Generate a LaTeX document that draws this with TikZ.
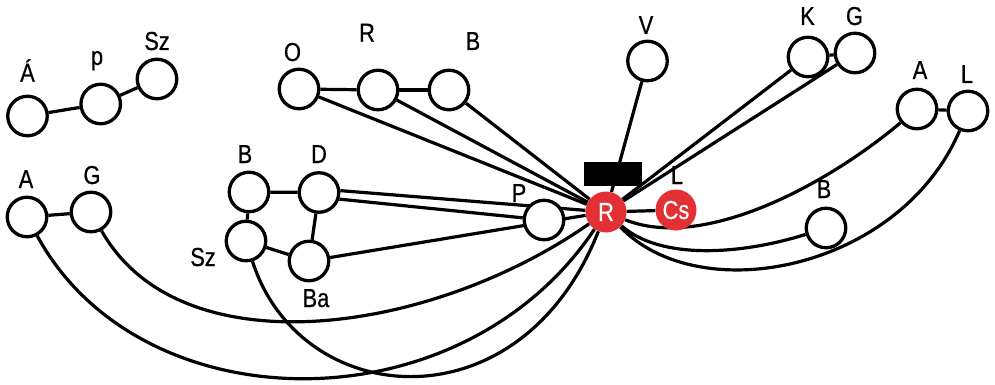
\documentclass[tikz,border=0pt]{standalone}
\usepackage{fontspec}
\setmainfont{Liberation Sans}[FakeStretch=0.84,FakeBold=0.6]
\usetikzlibrary{backgrounds}
\definecolor{hubred}{RGB}{226,48,52}
\begin{document}
\begin{tikzpicture}[x=1pt,y=-1pt,
  vert/.style={circle,draw,line width=3.3pt,fill=white,minimum size=39.5pt,inner sep=0pt},
  hub/.style={circle,fill=hubred,minimum size=41pt,inner sep=0pt,text=white,font=\fontsize{26}{26}\selectfont},
  lab/.style={anchor=base,inner sep=0pt,font=\fontsize{26}{26}\selectfont},
  link/.style={line width=3.2pt},
  barbox/.style={fill=black,minimum width=58pt,minimum height=24pt,inner sep=0pt}]
\useasboundingbox (0,0) rectangle (995,385);
% vertices
\node[vert] (a1) at (27.5,116) {};
\node[vert] (p1) at (100.7,104) {};
\node[vert] (sz1) at (157,79) {};
\node[vert] (o1) at (299,89) {};
\node[vert] (r1) at (378,90) {};
\node[vert] (b1) at (449,90) {};
\node[vert] (v1) at (647.5,61) {};
\node[vert] (k1) at (808,57) {};
\node[vert] (g1) at (855,53) {};
\node[vert] (a2) at (917,109) {};
\node[vert] (l2) at (968,111) {};
\node[vert] (a3) at (27,217) {};
\node[vert] (g3) at (91,212) {};
\node[vert] (b4) at (249,192) {};
\node[vert] (d4) at (319,192.5) {};
\node[vert] (sz4) at (246,241) {};
\node[vert] (ba4) at (309,261) {};
\node[vert] (p5) at (544,220) {};
\node[hub] (rr) at (606,212) {R};
\node[hub] (cs) at (676,210) {Cs};
\node[vert] (b6) at (826,228) {};
\node[barbox] (bar) at (613,174) {};
% labels
\node[lab] (la1) at (27.5,81.7) {Á};
\node[lab] (lp1) at (97,65) {p};
\node[lab] (lsz1) at (157,50) {Sz};
\node[lab] (lo1) at (292.5,61) {O};
\node[lab] (lr1) at (367,41.7) {R};
\node[lab] (lb1) at (473,50) {B};
\node[lab] (lv1) at (646,34) {V};
\node[lab] (lk1) at (807.5,25) {K};
\node[lab] (lg1) at (854.5,25) {G};
\node[lab] (la2) at (920,79) {A};
\node[lab] (ll2) at (967,83) {L};
\node[lab] (la3) at (26,188) {A};
\node[lab] (lg3) at (92,184) {G};
\node[lab] (lb4) at (245,163) {B};
\node[lab] (ld4) at (319,163) {D};
\node[lab] (lsz4) at (203,266) {Sz};
\node[lab] (lba4) at (316,307) {Ba};
\node[lab] (lp5) at (519,202) {P};
\node[lab] (lcs) at (677,184) {L};
\node[lab] (lb6) at (824,198) {B};
% edges
\begin{scope}[on background layer]
\fill[white] (0,0) rectangle (995,385);
\draw[link] (a1) -- (p1);
\draw[link] (p1) -- (sz1);
\draw[link] (o1) -- (r1);
\draw[link] (r1) -- (b1);
\draw[link] (k1) -- (g1);
\draw[link] (a2) -- (l2);
\draw[link] (a3) -- (g3);
\draw[link] (b4) -- (d4);
\draw[link] (b4) -- (sz4);
\draw[link] (d4) -- (ba4);
\draw[link] (sz4) -- (ba4);
\draw[link] (o1) -- (rr);
\draw[link] (r1) -- (rr);
\draw[link] (b1) -- (rr);
\draw[link] (v1) -- (rr);
\draw[link] (k1) -- (rr);
\draw[link] (g1) -- (rr);
\draw[link] (rr) -- (cs);
\draw[link] (d4.5) -- (rr);
\draw[link] (d4.-18) -- (p5);
\draw[link] (ba4) -- (rr);
\draw[link] (a3) .. controls (140,425) and (460,430) .. (rr);
\draw[link] (g3) .. controls (180,370) and (430,335) .. (rr);
\draw[link] (sz4) .. controls (300,410) and (520,430) .. (rr);
\draw[link] (a2) .. controls (820,190) and (700,250) .. (rr);
\draw[link] (b6) .. controls (740,255) and (660,260) .. (rr);
\draw[link] (l2) .. controls (900,270) and (700,310) .. (rr);
\end{scope}
\end{tikzpicture}
\end{document}
